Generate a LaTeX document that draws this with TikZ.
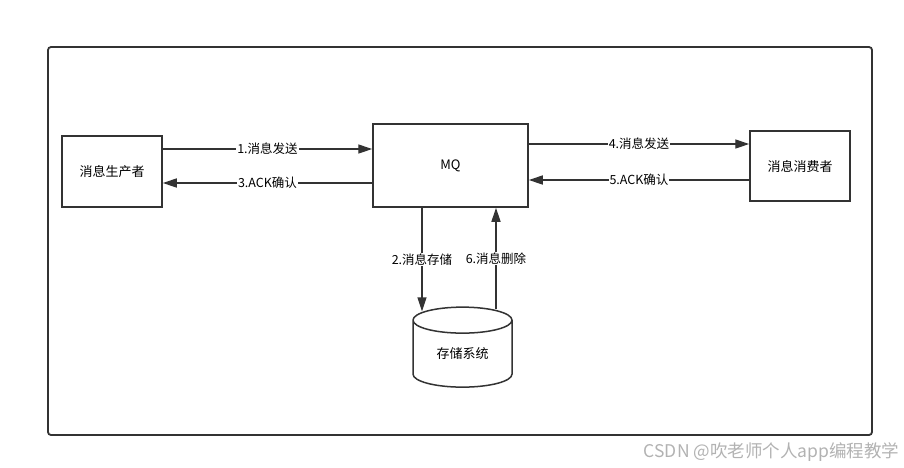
\documentclass[tikz,border=0pt]{standalone}
\usepackage{fontspec}
\usetikzlibrary{arrows.meta,shapes.geometric}
\newfontfamily\cjk{Noto Sans CJK SC}
\definecolor{linegray}{HTML}{333333}
\begin{document}
\begin{tikzpicture}[x=1pt,y=-1pt,font=\cjk]
  \tikzstyle{box}=[draw=linegray,line width=1.5pt,inner sep=0pt,font=\cjk\fontsize{13}{15}\selectfont]
  \tikzstyle{flow}=[draw=linegray,line width=1.4pt,-{Triangle[length=14pt,width=9pt]}]
  \tikzstyle{lbl}=[fill=white,inner sep=1pt,font=\cjk\fontsize{12.5}{14}\selectfont]
  \useasboundingbox (0,0) rectangle (904,467);
  \draw[linegray,line width=1.8pt,rounded corners=3pt] (48,47) rectangle (872,435);
  \node[box,minimum width=100pt,minimum height=71pt] (producer) at (112,171.5) {消息生产者};
  \node[box,minimum width=155pt,minimum height=83pt] (mq) at (450.5,165.5) {MQ};
  \node[box,minimum width=100pt,minimum height=70pt] (consumer) at (800,166) {消息消费者};
  \node[box,cylinder,shape border rotate=90,aspect=0.5,minimum width=99pt,minimum height=80pt] (db) at (462.5,354) {存储系统};
  \draw[flow] (producer.east |- 0,149) -- node[lbl] {1.消息发送} (mq.west |- 0,149);
  \draw[flow] (mq.west |- 0,183) -- node[lbl] {3.ACK确认} (producer.east |- 0,183);
  \draw[flow] (mq.east |- 0,144) -- node[lbl] {4.消息发送} (consumer.west |- 0,144);
  \draw[flow] (consumer.west |- 0,180) -- node[lbl] {5.ACK确认} (mq.east |- 0,180);
  \draw[flow] ([xshift=-28.5pt]mq.south) -- node[lbl] {2.消息存储} ([xshift=-28.5pt,yshift=-5pt]mq.south |- db.north);
  \draw[flow] ([xshift=45.5pt,yshift=-3pt]mq.south |- db.north) -- node[lbl] {6.消息删除} ([xshift=45.5pt]mq.south);
  \node[text=gray!60,font=\cjk\fontsize{17.5}{19}\selectfont] (mark) at (771.5,452) {CSDN @吹老师个人app编程教学};
\end{tikzpicture}
\end{document}
